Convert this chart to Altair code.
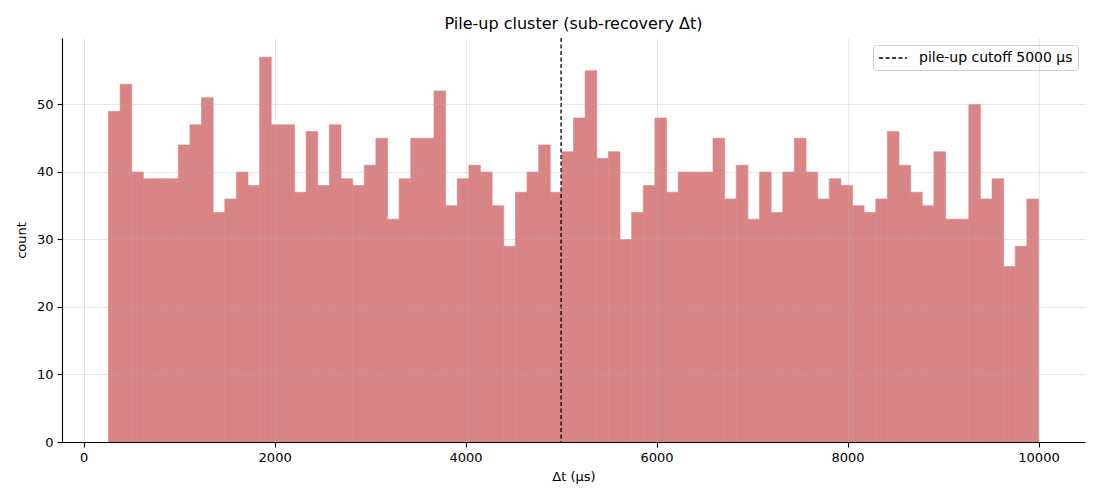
import altair as alt
import pandas as pd
import numpy as np

# --- data ---
counts = [49, 53, 40, 39, 39, 39, 44, 47, 51, 34,
          36, 40, 38, 57, 47, 47, 37, 46, 38, 47,
          39, 38, 41, 45, 33, 39, 45, 45, 52, 35,
          39, 41, 40, 35, 29, 37, 40, 44, 37, 43,
          48, 55, 42, 43, 30, 34, 38, 48, 37, 40,
          40, 40, 45, 36, 41, 33, 40, 34, 40, 45,
          40, 36, 39, 38, 35, 34, 36, 46, 41, 37,
          35, 43, 33, 33, 50, 36, 39, 26, 29, 36]
range_lo = 260.0
range_hi = 10000.0
cutoff = 5000
x_ticks = [0, 2000, 4000, 6000, 8000, 10000]
y_ticks = [0, 10, 20, 30, 40, 50]

edges = np.linspace(range_lo, range_hi, len(counts) + 1)
hist = pd.DataFrame({"start": edges[:-1], "end": edges[1:], "count": counts})
cut = pd.DataFrame({"x": [cutoff], "label": [f"pile-up cutoff {cutoff} μs"]})

span = range_hi - range_lo
xdom = [min(0, range_lo - 0.05 * span), range_hi + 0.05 * span]
ydom = [0, max(counts) * 1.05]

FONT = "DejaVu Sans"
BAR = "#d98585"

xscale = alt.Scale(domain=xdom, nice=False, zero=False)
yscale = alt.Scale(domain=ydom, nice=False)

axis_common = dict(
    grid=True, gridColor="#b0b0b0", gridOpacity=0.3, gridWidth=1,
    domainColor="black", domainWidth=1.1, tickColor="black", tickSize=5, tickWidth=1.1,
    labelFont=FONT, labelFontSize=13, labelColor="black",
    titleFont=FONT, titleFontSize=13, titleColor="black", titleFontWeight="normal",
    zindex=1,
)

bars = alt.Chart(hist).mark_rect(color=BAR, stroke=BAR, strokeWidth=0.6).encode(
    x=alt.X("start:Q", scale=xscale,
            axis=alt.Axis(values=x_ticks, title="Δt (μs)", labelPadding=4, titlePadding=6,
                          format="d", **axis_common)),
    x2="end:Q",
    y=alt.Y("count:Q", scale=yscale,
            axis=alt.Axis(values=y_ticks, title="count", labelPadding=4, titlePadding=8,
                          **axis_common)),
    y2=alt.datum(0),
)

rule = alt.Chart(cut).mark_rule(color="black", strokeWidth=1.3).encode(
    x=alt.X("x:Q", scale=xscale),
    strokeDash=alt.StrokeDash("label:N",
                              scale=alt.Scale(range=[[4, 2.5]]),
                              legend=alt.Legend(title=None, orient="top-right", offset=7,
                                                symbolType="M-1,0L3,0", symbolSize=196,
                                                symbolStrokeWidth=1.3, symbolStrokeColor="black",
                                                labelFont=FONT, labelFontSize=14, labelColor="black",
                                                labelOffset=25, padding=5,
                                                fillColor="white", strokeColor="#d0d0d0",
                                                cornerRadius=3)),
)

chart = alt.layer(bars, rule).properties(
    width=1023, height=404,
    title=alt.TitleParams("Pile-up cluster (sub-recovery Δt)", font=FONT, fontSize=16,
                          fontWeight="normal", color="black", anchor="middle", offset=5),
    padding={"left": 54, "top": 30, "right": 5, "bottom": 50},
    autosize=alt.AutoSizeParams(type="none"),
).configure_view(stroke=None)

chart.save("out.html", embed_options={"renderer": "svg", "actions": False})
